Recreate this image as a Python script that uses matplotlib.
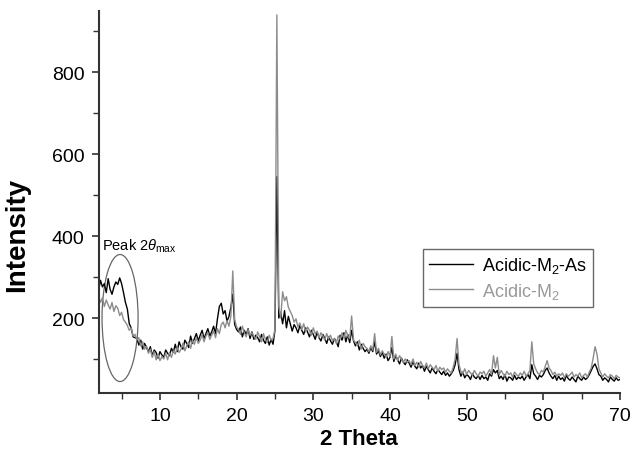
import matplotlib.pyplot as plt
import numpy as np
from matplotlib.patches import Ellipse
from matplotlib.ticker import MultipleLocator

plt.rcParams['font.family'] = ['Liberation Sans', 'DejaVu Sans']
plt.rcParams['mathtext.fontset'] = 'custom'
plt.rcParams['mathtext.rm'] = 'Liberation Sans'
plt.rcParams['mathtext.it'] = 'Liberation Sans:italic'

# 2 theta grid, 0.25 deg step from 2 to 70
two_theta = np.arange(2.0, 70.001, 0.25)

# Acidic-M2-As (black)
acidic_m2_as = [
    268, 292, 276, 284, 262, 296, 270, 258, 276, 288, 282, 298, 284, 262, 238, 222, 186, 176, 154, 152,
    150, 134, 146, 124, 138, 128, 118, 130, 108, 122, 116, 102, 118, 110, 104, 122, 114, 108, 126, 116,
    136, 118, 142, 130, 124, 146, 138, 128, 156, 138, 150, 162, 144, 158, 170, 150, 162, 174, 156, 166,
    180, 162, 198, 228, 236, 210, 218, 192, 204, 226, 258, 184, 172, 166, 178, 154, 170, 160, 174, 150,
    166, 148, 158, 152, 142, 160, 146, 138, 154, 134, 148, 136, 170, 545, 200, 214, 186, 218, 176, 204,
    186, 168, 184, 176, 164, 182, 170, 160, 176, 166, 154, 170, 160, 148, 166, 152, 144, 160, 150, 138,
    154, 144, 136, 150, 142, 130, 158, 146, 164, 142, 160, 140, 170, 144, 132, 142, 122, 136, 126, 118,
    124, 114, 128, 118, 142, 112, 120, 106, 116, 102, 112, 96, 104, 128, 94, 108, 98, 88, 102, 92,
    86, 98, 90, 80, 94, 82, 76, 90, 78, 84, 70, 82, 74, 66, 78, 70, 64, 74, 68, 62,
    70, 60, 66, 58, 64, 72, 86, 114, 74, 58, 68, 54, 62, 58, 50, 64, 56, 52, 60, 50,
    60, 52, 56, 48, 64, 58, 74, 66, 72, 52, 58, 50, 62, 46, 56, 54, 48, 60, 50, 56,
    52, 58, 48, 56, 62, 52, 86, 64, 58, 50, 60, 56, 62, 72, 78, 66, 58, 52, 60, 48,
    58, 50, 54, 46, 60, 52, 48, 56, 50, 44, 58, 52, 48, 56, 50, 54, 62, 72, 82, 88,
    76, 62, 58, 48, 54, 50, 44, 56, 50, 46, 54, 48, 50,
]

# Acidic-M2 (grey)
acidic_m2 = [
    252, 238, 250, 228, 244, 232, 222, 238, 216, 230, 224, 206, 214, 196, 190, 182, 170, 176, 156, 160,
    146, 152, 132, 142, 124, 132, 114, 124, 104, 118, 98, 112, 96, 106, 100, 114, 98, 116, 104, 120,
    112, 128, 116, 124, 138, 120, 132, 142, 126, 146, 136, 152, 138, 146, 160, 142, 156, 164, 148, 158,
    168, 152, 174, 162, 184, 190, 176, 194, 180, 204, 315, 196, 178, 172, 160, 180, 164, 154, 172, 158,
    164, 156, 148, 166, 154, 142, 162, 148, 140, 158, 146, 150, 172, 940, 228, 200, 264, 242, 252, 226,
    216, 206, 190, 198, 178, 188, 172, 186, 166, 178, 170, 158, 176, 162, 168, 152, 164, 156, 146, 162,
    150, 158, 144, 150, 138, 156, 148, 164, 150, 170, 156, 150, 205, 146, 140, 132, 146, 124, 138, 130,
    126, 118, 132, 122, 162, 116, 126, 110, 120, 112, 104, 118, 106, 155, 100, 112, 96, 108, 100, 92,
    100, 92, 96, 86, 100, 84, 92, 80, 94, 84, 78, 90, 76, 86, 80, 74, 84, 70, 80, 74,
    78, 68, 76, 70, 66, 80, 100, 150, 86, 70, 64, 76, 62, 72, 66, 60, 72, 64, 58, 68,
    64, 70, 58, 66, 74, 62, 108, 78, 104, 62, 72, 64, 58, 70, 62, 66, 56, 68, 62, 58,
    66, 60, 70, 58, 64, 72, 142, 88, 76, 66, 62, 72, 68, 82, 96, 78, 72, 62, 68, 58,
    64, 60, 66, 54, 64, 58, 62, 68, 56, 62, 58, 66, 54, 60, 64, 56, 68, 78, 102, 130,
    112, 76, 66, 56, 64, 58, 54, 62, 58, 52, 60, 56, 54,
]

fig = plt.figure(figsize=(6.32, 4.60), dpi=100)
ax = fig.add_axes([0.156, 0.1435, 0.825, 0.830])

ax.plot(two_theta, acidic_m2_as, color='black', lw=1.0, label=r'Acidic-M$_2$-As')
ax.plot(two_theta, acidic_m2, color='#8c8c8c', lw=1.0, label=r'Acidic-M$_2$')

ax.set_xlim(2, 70)
ax.set_ylim(17, 949)
ax.xaxis.set_major_locator(MultipleLocator(10))
ax.xaxis.set_minor_locator(MultipleLocator(5))
ax.yaxis.set_major_locator(MultipleLocator(200))
ax.yaxis.set_minor_locator(MultipleLocator(100))
ax.set_yticks([200, 400, 600, 800])

for s in ['top', 'right']:
    ax.spines[s].set_visible(False)
for s in ['left', 'bottom']:
    ax.spines[s].set_linewidth(1.5)
    ax.spines[s].set_color('#333333')
ax.tick_params(which='major', length=5, width=1.2, color='#333333', labelsize=14, pad=5)
ax.tick_params(which='minor', length=4, width=1.0, color='#333333')

ax.set_xlabel('2 Theta', fontsize=16, fontweight='bold', labelpad=3)
ax.set_ylabel('Intensity', fontsize=20, fontweight='bold')
ax.yaxis.set_label_coords(-0.132, 0.416)

# circled region
ax.add_patch(Ellipse((4.8, 200), 4.7, 310, fill=False, edgecolor='#666666', lw=0.9))
ax.text(2.4, 368, r'Peak 2$\it{\theta}_{\rm max}$', fontsize=10.5, va='baseline')

leg = ax.legend(loc='upper left', bbox_to_anchor=(0.622, 0.377), fontsize=13,
                fancybox=False, frameon=True, edgecolor='#444444', handlelength=2.4,
                handletextpad=0.5, borderpad=0.35, labelspacing=0.3, borderaxespad=0)
leg.get_frame().set_linewidth(1.0)
for t, c in zip(leg.get_texts(), ['black', '#999999']):
    t.set_color(c)

fig.savefig('out.png', dpi=100)
